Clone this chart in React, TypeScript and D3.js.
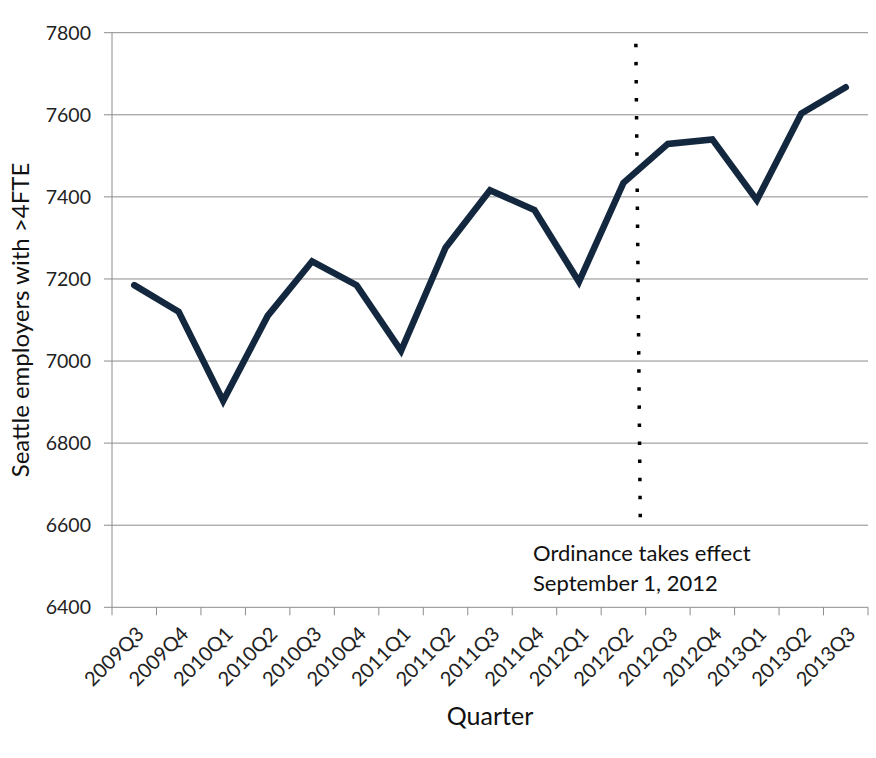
import React from "react";
import * as d3 from "d3";

const quarters = ["2009Q3","2009Q4","2010Q1","2010Q2","2010Q3","2010Q4","2011Q1","2011Q2","2011Q3","2011Q4","2012Q1","2012Q2","2012Q3","2012Q4","2013Q1","2013Q2","2013Q3"];
const employers = [7185,7120,6903,7110,7243,7185,7025,7276,7416,7368,7193,7434,7529,7540,7392,7603,7667];
const yTicks = [6400,6600,6800,7000,7200,7400,7600,7800];
const ordinanceIndex = [11.28, 11.38];
const ordinanceRange = [7773, 6605];
const annotation = ["Ordinance takes effect", "September 1, 2012"];

const W = 876, H = 758;
const M = { left: 112, right: 868, top: 32.7, bottom: 607.3 };
const FONT = "Lato, 'Open Sans', sans-serif";

export default function App() {
  const x = d3.scaleLinear().domain([0, quarters.length]).range([M.left, M.right]);
  const y = d3.scaleLinear().domain([6400, 7800]).range([M.bottom, M.top]);
  const cx = (i: number) => x(i + 0.5);
  const line = d3.line<number>().x((_, i) => cx(i)).y((d) => y(d));
  const boundaries = d3.range(quarters.length + 1);

  return (
    <svg width={W} height={H} style={{ position: "absolute", left: 0, top: 0, background: "#fff" }}>
      {yTicks.map((t) => (
        <g key={t}>
          {t !== 6400 && <line x1={M.left} x2={M.right} y1={y(t)} y2={y(t)} stroke="#8c8c8c" strokeWidth={1} />}
          <line x1={M.left - 8} x2={M.left} y1={y(t)} y2={y(t)} stroke="#8c8c8c" strokeWidth={1} />
          <text x={91} y={y(t)} dy="0.35em" textAnchor="end" fontFamily={FONT} fontSize={19.5} fill="#222">{t}</text>
        </g>
      ))}
      <line x1={M.left} x2={M.left} y1={M.top} y2={M.bottom} stroke="#8c8c8c" strokeWidth={1} />
      <line x1={M.left} x2={M.right} y1={M.bottom} y2={M.bottom} stroke="#8c8c8c" strokeWidth={1} />
      {boundaries.map((b) => (
        <line key={b} x1={x(b)} x2={x(b)} y1={M.bottom} y2={M.bottom + 8} stroke="#8c8c8c" strokeWidth={1} />
      ))}
      {quarters.map((q, i) => (
        <text key={q} transform={`translate(${cx(i) + 6},${M.bottom + 23}) rotate(-45)`} textAnchor="end" dy="0.35em" fontFamily={FONT} fontSize={20} fill="#222">{q}</text>
      ))}
      <line
        x1={x(ordinanceIndex[0] + 0.5)} y1={y(ordinanceRange[0])}
        x2={x(ordinanceIndex[1] + 0.5)} y2={y(ordinanceRange[1])}
        stroke="#000" strokeWidth={3.5} strokeDasharray="3.5 14.58" />
      <path d={line(employers) || ""} fill="none" stroke="#13283f" strokeWidth={6.5} strokeLinejoin="miter" strokeLinecap="round" />
      {annotation.map((a, i) => (
        <text key={a} x={533} y={561 + i * 30} fontFamily={FONT} fontSize={22} fill="#111">{a}</text>
      ))}
      <text transform={`translate(29,${(M.top + M.bottom) / 2}) rotate(-90)`} textAnchor="middle" fontFamily={FONT} fontSize={24} fill="#111">Seattle employers with &gt;4FTE</text>
      <text x={490} y={725} textAnchor="middle" fontFamily={FONT} fontSize={25} fill="#111">Quarter</text>
    </svg>
  );
}
